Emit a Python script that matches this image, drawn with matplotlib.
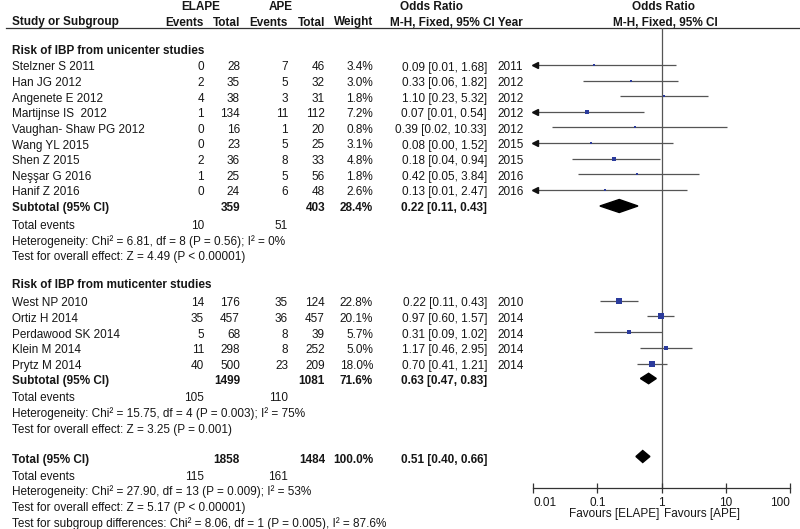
import matplotlib
matplotlib.use('Agg')
import matplotlib.pyplot as plt
from matplotlib.patches import Polygon
import numpy as np

plt.rcParams['font.family'] = ['Liberation Sans', 'DejaVu Sans']

# ---------------- data ----------------
uni_names = ["Stelzner S 2011", "Han JG 2012", "Angenete E 2012", "Martijnse IS  2012",
             "Vaughan- Shaw PG 2012", "Wang YL 2015", "Shen Z 2015", "Neşşar G 2016", "Hanif Z 2016"]
uni_e1 = [0, 2, 4, 1, 0, 0, 2, 1, 0]
uni_n1 = [28, 35, 38, 134, 16, 23, 36, 25, 24]
uni_e2 = [7, 5, 3, 11, 1, 5, 8, 5, 6]
uni_n2 = [46, 32, 31, 112, 20, 25, 33, 56, 48]
uni_w = [3.4, 3.0, 1.8, 7.2, 0.8, 3.1, 4.8, 1.8, 2.6]
uni_or = [0.09, 0.33, 1.10, 0.07, 0.39, 0.08, 0.18, 0.42, 0.13]
uni_lo = [0.01, 0.06, 0.23, 0.01, 0.02, 0.00, 0.04, 0.05, 0.01]
uni_hi = [1.68, 1.82, 5.32, 0.54, 10.33, 1.52, 0.94, 3.84, 2.47]
uni_year = [2011, 2012, 2012, 2012, 2012, 2015, 2015, 2016, 2016]

mul_names = ["West NP 2010", "Ortiz H 2014", "Perdawood SK 2014", "Klein M 2014", "Prytz M 2014"]
mul_e1 = [14, 35, 5, 11, 40]
mul_n1 = [176, 457, 68, 298, 500]
mul_e2 = [35, 36, 8, 8, 23]
mul_n2 = [124, 457, 39, 252, 209]
mul_w = [22.8, 20.1, 5.7, 5.0, 18.0]
mul_or = [0.22, 0.97, 0.31, 1.17, 0.70]
mul_lo = [0.11, 0.60, 0.09, 0.46, 0.41]
mul_hi = [0.43, 1.57, 1.02, 2.95, 1.21]
mul_year = [2010, 2014, 2014, 2014, 2014]

# subtotal / total: [n1, n2, weight, or, lo, hi, events1, events2]
uni_sub = [359, 403, 28.4, 0.22, 0.11, 0.43, 10, 51]
mul_sub = [1499, 1081, 71.6, 0.63, 0.47, 0.83, 105, 110]
tot_sub = [1858, 1484, 100.0, 0.51, 0.40, 0.66, 115, 161]

uni_het = "Heterogeneity: Chi² = 6.81, df = 8 (P = 0.56); I² = 0%"
uni_test = "Test for overall effect: Z = 4.49 (P < 0.00001)"
mul_het = "Heterogeneity: Chi² = 15.75, df = 4 (P = 0.003); I² = 75%"
mul_test = "Test for overall effect: Z = 3.25 (P = 0.001)"
tot_het = "Heterogeneity: Chi² = 27.90, df = 13 (P = 0.009); I² = 53%"
tot_test = "Test for overall effect: Z = 5.17 (P < 0.00001)"
sub_test = "Test for subgroup differences: Chi² = 8.06, df = 1 (P = 0.005), I² = 87.6%"

xticks = [0.01, 0.1, 1, 10, 100]
xtick_labels = ["0.01", "0.1", "1", "10", "100"]

# ---------------- layout (pixels) ----------------
W, H = 800, 529
FS = 8.5
TC = '#161616'
BLUE = '#2b3b9c'
LINE = '#555555'

fig = plt.figure(figsize=(W / 100, H / 100), dpi=100)
tx = fig.add_axes([0, 0, 1, 1])
tx.set_xlim(0, W)
tx.set_ylim(H, 0)
tx.axis('off')

X_NAME, X_E1, X_N1, X_E2, X_N2, X_W, X_OR, X_YR = 12, 204, 240, 288, 325, 373, 487, 497


def t(x, y, s, ha='left', bold=False):
    tx.text(x, y, s, ha=ha, va='center', fontsize=FS, color=TC,
            fontweight='bold' if bold else 'normal')


# headers
t(201, 7, "ELAPE", 'center', True)
t(281, 7, "APE", 'center', True)
t(432, 7, "Odds Ratio", 'center', True)
t(663, 7, "Odds Ratio", 'center', True)
t(X_NAME, 22.5, "Study or Subgroup", bold=True)
t(X_E1, 22.5, "Events", 'right', True)
t(X_N1, 22.5, "Total", 'right', True)
t(X_E2, 22.5, "Events", 'right', True)
t(X_N2, 22.5, "Total", 'right', True)
t(X_W, 22.5, "Weight", 'right', True)
t(390, 22.5, "M-H, Fixed, 95% CI Year", bold=True)
t(665, 22.5, "M-H, Fixed, 95% CI", 'center', True)
tx.plot([6, 800], [27.5, 27.5], color='#333333', lw=0.9)

# forest axes
Y_TOP, Y_AX = 27.5, 487.5
X_L, X_R = 533, 790
ax = fig.add_axes([X_L / W, (H - Y_AX) / H, (X_R - X_L) / W, (Y_AX - Y_TOP) / H])
ax.set_xscale('log')
ax.set_xlim(0.01, 100)
ax.set_ylim(Y_AX, Y_TOP)
ax.patch.set_alpha(0)
for s in ['top', 'left', 'right']:
    ax.spines[s].set_visible(False)
ax.spines['bottom'].set_color('#333333')
ax.spines['bottom'].set_linewidth(0.9)
ax.set_yticks([])
ax.set_xticks(xticks)
ax.minorticks_off()
ax.set_xticklabels(xtick_labels, fontsize=FS, color=TC)
ax.tick_params(axis='x', direction='inout', length=7, width=0.9, color='#333333', pad=3)
lbls = ax.get_xticklabels()
lbls[0].set_ha('left')
lbls[-1].set_ha('right')
ax.axvline(1, color=LINE, lw=0.9, zorder=1)
ax.text(0.92, 514, "Favours [ELAPE]", ha='right', va='center', fontsize=FS, color=TC, clip_on=False)
ax.text(1.09, 514, "Favours [APE]", ha='left', va='center', fontsize=FS, color=TC, clip_on=False)

MOFF = 2.5  # markers slightly above text centre


def study_rows(ys, names, e1, n1, e2, n2, w, orr, lo, hi, yr):
    for i, y in enumerate(ys):
        t(X_NAME, y, names[i])
        t(X_E1, y, str(e1[i]), 'right')
        t(X_N1, y, str(n1[i]), 'right')
        t(X_E2, y, str(e2[i]), 'right')
        t(X_N2, y, str(n2[i]), 'right')
        t(X_W, y, f"{w[i]:.1f}%", 'right')
        t(X_OR, y, f"{orr[i]:.2f} [{lo[i]:.2f}, {hi[i]:.2f}]", 'right')
        t(X_YR, y, str(yr[i]))
        ym = y - MOFF
        lo_c = max(lo[i], 0.01)
        ax.plot([lo_c, hi[i]], [ym, ym], color=LINE, lw=0.9, zorder=2, solid_capstyle='butt')
        if lo[i] <= 0.01:
            ax.plot([0.0107], [ym], marker='<', ms=4.8, color='#111111', zorder=3, clip_on=False)
        side = max(2.4, 1.42 * np.sqrt(w[i])) * 0.72
        ax.plot([orr[i]], [ym], marker='s', ms=side, color=BLUE, mec=BLUE, mew=0, zorder=4)


def diamond(y, orr, lo, hi, h):
    ym = y - MOFF
    ax.add_patch(Polygon([(lo, ym), (orr, ym - h), (hi, ym), (orr, ym + h)],
                         closed=True, color='black', zorder=5))


# group 1
t(X_NAME, 51, "Risk of IBP from unicenter studies", bold=True)
ys1 = [67.5 + 15.6 * i for i in range(len(uni_names))]
study_rows(ys1, uni_names, uni_e1, uni_n1, uni_e2, uni_n2, uni_w, uni_or, uni_lo, uni_hi, uni_year)
y = 208
t(X_NAME, y, "Subtotal (95% CI)", bold=True)
t(X_N1, y, str(uni_sub[0]), 'right', True)
t(X_N2, y, str(uni_sub[1]), 'right', True)
t(X_W, y, f"{uni_sub[2]:.1f}%", 'right', True)
t(X_OR, y, f"{uni_sub[3]:.2f} [{uni_sub[4]:.2f}, {uni_sub[5]:.2f}]", 'right', True)
diamond(y + 0.5, uni_sub[3], uni_sub[4], uni_sub[5], 6.5)
t(X_NAME, 226, "Total events")
t(X_E1, 226, str(uni_sub[6]), 'right')
t(X_E2, 226, str(uni_sub[7]), 'right')
t(X_NAME, 241.5, uni_het)
t(X_NAME, 257, uni_test)

# group 2
t(X_NAME, 285.5, "Risk of IBP from muticenter studies", bold=True)
ys2 = [303 + 15.8 * i for i in range(len(mul_names))]
study_rows(ys2, mul_names, mul_e1, mul_n1, mul_e2, mul_n2, mul_w, mul_or, mul_lo, mul_hi, mul_year)
y = 381
t(X_NAME, y, "Subtotal (95% CI)", bold=True)
t(X_N1, y, str(mul_sub[0]), 'right', True)
t(X_N2, y, str(mul_sub[1]), 'right', True)
t(X_W, y, f"{mul_sub[2]:.1f}%", 'right', True)
t(X_OR, y, f"{mul_sub[3]:.2f} [{mul_sub[4]:.2f}, {mul_sub[5]:.2f}]", 'right', True)
diamond(y, mul_sub[3], mul_sub[4], mul_sub[5], 5.2)
t(X_NAME, 398, "Total events")
t(X_E1, 398, str(mul_sub[6]), 'right')
t(X_E2, 398, str(mul_sub[7]), 'right')
t(X_NAME, 414, mul_het)
t(X_NAME, 429.5, mul_test)

# overall
y = 460
t(X_NAME, y, "Total (95% CI)", bold=True)
t(X_N1, y, str(tot_sub[0]), 'right', True)
t(X_N2, y, str(tot_sub[1]), 'right', True)
t(X_W, y, f"{tot_sub[2]:.1f}%", 'right', True)
t(X_OR, y, f"{tot_sub[3]:.2f} [{tot_sub[4]:.2f}, {tot_sub[5]:.2f}]", 'right', True)
diamond(y - 1, tot_sub[3], tot_sub[4], tot_sub[5], 6)
t(X_NAME, 476.5, "Total events")
t(X_E1, 476.5, str(tot_sub[6]), 'right')
t(X_E2, 476.5, str(tot_sub[7]), 'right')
t(X_NAME, 492, tot_het)
t(X_NAME, 507.5, tot_test)
t(X_NAME, 523.5, sub_test)

fig.savefig('out.png', dpi=100)
